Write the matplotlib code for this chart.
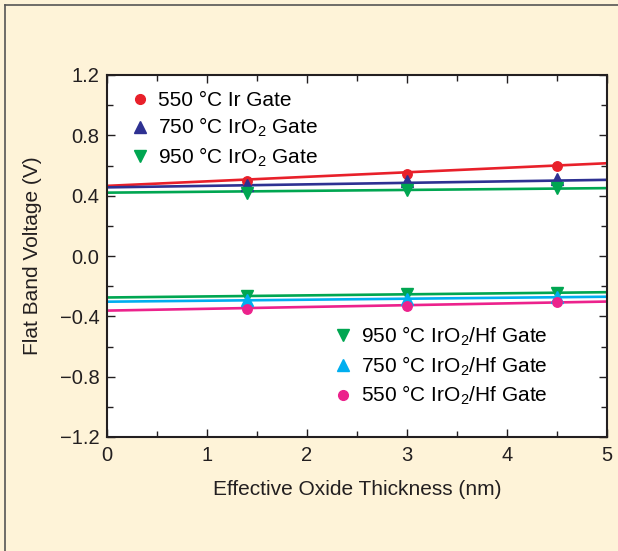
import matplotlib
matplotlib.use("Agg")
import matplotlib.pyplot as plt
from matplotlib.lines import Line2D
from matplotlib.ticker import MultipleLocator
import numpy as np

plt.rcParams['font.family'] = ['Liberation Sans', 'DejaVu Sans']
plt.rcParams['mathtext.fontset'] = 'custom'
plt.rcParams['mathtext.rm'] = 'Liberation Sans'
plt.rcParams['mathtext.it'] = 'Liberation Sans:italic'

# Data
thickness = [1.4, 3.0, 4.5]
labels = [
    "550 °C Ir Gate",
    "750 °C IrO$_2$ Gate",
    "950 °C IrO$_2$ Gate",
    "950 °C IrO$_2$/Hf Gate",
    "750 °C IrO$_2$/Hf Gate",
    "550 °C IrO$_2$/Hf Gate",
]
vfb_550_ir = [0.50, 0.545, 0.595]
vfb_750_iro2 = [0.47, 0.50, 0.51]
vfb_950_iro2 = [0.415, 0.435, 0.45]
vfb_950_hf = [-0.262, -0.252, -0.243]
vfb_750_hf = [-0.293, -0.288, -0.272]
vfb_550_hf = [-0.350, -0.330, -0.307]
fit_x = [0.0, 5.0]
fit_550_ir = [0.465, 0.615]
fit_750_iro2 = [0.455, 0.505]
fit_950_iro2 = [0.42, 0.45]
fit_950_hf = [-0.275, -0.240]
fit_750_hf = [-0.303, -0.270]
fit_550_hf = [-0.362, -0.302]
yticks = [-1.2, -0.8, -0.4, 0.0, 0.4, 0.8, 1.2]
yticklabels = ['\u22121.2', '\u22120.8', '\u22120.4', '0.0', '0.4', '0.8', '1.2']

series = [
    (vfb_550_ir, fit_550_ir, '#E8202A', 'o'),
    (vfb_750_iro2, fit_750_iro2, '#2E3192', '^'),
    (vfb_950_iro2, fit_950_iro2, '#00A651', 'v'),
    (vfb_950_hf, fit_950_hf, '#00A651', 'v'),
    (vfb_750_hf, fit_750_hf, '#00AEEF', '^'),
    (vfb_550_hf, fit_550_hf, '#EC228C', 'o'),
]

ink = '#231F20'
bg = '#FEF3D8'
fig = plt.figure(figsize=(6.18, 5.51), dpi=100, facecolor=bg)
ax = fig.add_axes([107/618, 1-437/551, 500/618, 362/551])
ax.set_facecolor('white')

handles = []
for (vals, fit, color, mk) in series:
    ax.plot(fit_x, fit, color=color, lw=1.9, solid_capstyle='butt', zorder=2)
    ax.plot(thickness, vals, linestyle='none', marker=mk, color=color,
            markersize=8 if mk != 'o' else 6.8, zorder=3)
    handles.append(Line2D([], [], linestyle='none', marker=mk, color=color,
                          markersize=8 if mk != 'o' else 7))

ax.set_xlim(0, 5)
ax.set_ylim(-1.2, 1.2)
ax.xaxis.set_major_locator(MultipleLocator(1))
ax.xaxis.set_minor_locator(MultipleLocator(0.5))
ax.set_yticks(yticks)
ax.set_yticklabels(yticklabels)
ax.yaxis.set_minor_locator(MultipleLocator(0.2))
ax.tick_params(which='both', direction='in', top=True, right=True,
               labelsize=14.5, colors=ink, width=1.0)
ax.tick_params(which='major', length=6)
ax.tick_params(which='minor', length=4)
ax.tick_params(axis='x', which='major', pad=6.5)
ax.tick_params(axis='y', which='major', pad=5.5)
for s in ax.spines.values():
    s.set_linewidth(1.5)
    s.set_color(ink)

ax.set_xlabel('Effective Oxide Thickness (nm)', fontsize=15, color=ink, labelpad=11)
ax.set_ylabel('Flat Band Voltage (V)', fontsize=15, color=ink, labelpad=13)

common = dict(frameon=False, fontsize=15, handlelength=1.0, handletextpad=0.35,
              labelspacing=0.3, borderaxespad=0.0, borderpad=0.0, loc='upper left')
leg1 = ax.legend(handles[:3], labels[:3], bbox_to_anchor=(0.045, 0.956), **common)
ax.add_artist(leg1)
ax.legend(handles[3:], labels[3:], bbox_to_anchor=(0.451, 0.310), **common)

# outer frame (top and left edges)
fig.add_artist(Line2D([5/618, 1], [1-5/551, 1-5/551], color='#555555', lw=1.2,
                      transform=fig.transFigure))
fig.add_artist(Line2D([5/618, 5/618], [0, 1-5/551], color='#555555', lw=1.2,
                      transform=fig.transFigure))

fig.savefig('out.png', dpi=100, facecolor=bg)
